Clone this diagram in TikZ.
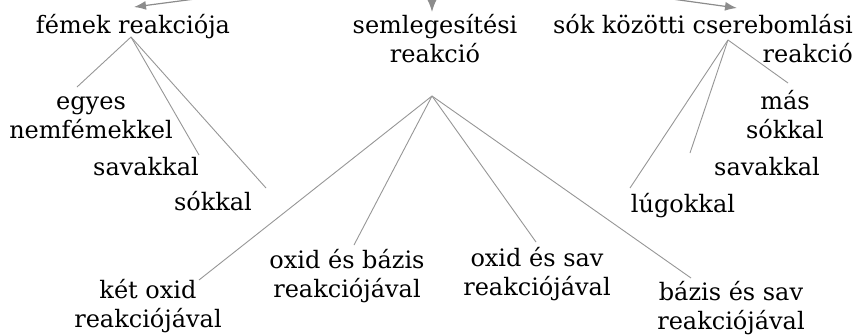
\documentclass[tikz,border=0pt]{standalone}
\usepackage{fontspec}
\setmainfont{DejaVu Serif}
\usetikzlibrary{arrows.meta}
\definecolor{linegray}{RGB}{150,150,150}
\definecolor{arrowgray}{RGB}{140,140,140}
\begin{document}
\begin{tikzpicture}[x=1pt,y=-1pt,
  lbl/.style={inner sep=0pt,anchor=base,font=\fontsize{24}{28.5}\selectfont},
  conn/.style={draw=linegray,line width=0.9pt},
  topArrow/.style={draw=arrowgray,line width=1.2pt,-{Latex[length=12pt,width=9pt]}}]
\useasboundingbox (0,0) rectangle (857,335);
\clip (0,0) rectangle (857,335);
% text nodes (anchor=base is the baseline of the last line)
\node[lbl] (fem) at (133,33) {fémek reakciója};
\node[lbl,align=center] (semleg) at (435,62) {semlegesítési\\reakció};
\node[lbl,align=right,anchor=base east] (sok) at (853,62) {sók közötti cserebomlási\\reakció};
\node[lbl,align=center] (egyes) at (91,138) {egyes\\nemfémekkel};
\node[lbl] (savL) at (146,175) {savakkal};
\node[lbl] (sokkalL) at (213,210) {sókkal};
\node[lbl,align=center] (ketoxid) at (148,327) {két oxid\\reakciójával};
\node[lbl,align=center] (oxbaz) at (347,297) {oxid és bázis\\reakciójával};
\node[lbl,align=center] (oxsav) at (537,295) {oxid és sav\\reakciójával};
\node[lbl,align=center] (bazsav) at (731,329) {bázis és sav\\reakciójával};
\node[lbl,align=center] (mas) at (785,138) {más\\sókkal};
\node[lbl] (savR) at (767,175) {savakkal};
\node[lbl] (lug) at (683,212) {lúgokkal};
% connector points
\coordinate (femApex) at (131,37);
\coordinate (semlegApex) at (432,96);
\coordinate (sokApex) at (728,40);
\coordinate (egyesEnd) at (77,87);
\coordinate (savLEnd) at (199,155);
\coordinate (sokkalLEnd) at (266,188);
\coordinate (ketoxidEnd) at (199,280);
\coordinate (oxbazEnd) at (354,245);
\coordinate (oxsavEnd) at (536,242);
\coordinate (bazsavEnd) at (691,278);
\coordinate (masEnd) at (788,83);
\coordinate (savREnd) at (690,153);
\coordinate (lugEnd) at (630,188);
% top arrows
\coordinate (srcL) at (195,-1);
\coordinate (srcM) at (432,-2);
\coordinate (srcR) at (672,-1);
\coordinate (femTip) at (134,7);
\coordinate (semlegTip) at (432,12);
\coordinate (sokTip) at (737,8);
\draw[topArrow] (srcL) -- (femTip);
\draw[topArrow] (srcM) -- (semlegTip);
\draw[topArrow] (srcR) -- (sokTip);
% connectors
\draw[conn] (femApex) -- (egyesEnd);
\draw[conn] (femApex) -- (savLEnd);
\draw[conn] (femApex) -- (sokkalLEnd);
\draw[conn] (semlegApex) -- (ketoxidEnd);
\draw[conn] (semlegApex) -- (oxbazEnd);
\draw[conn] (semlegApex) -- (oxsavEnd);
\draw[conn] (semlegApex) -- (bazsavEnd);
\draw[conn] (sokApex) -- (masEnd);
\draw[conn] (sokApex) -- (savREnd);
\draw[conn] (sokApex) -- (lugEnd);
\end{tikzpicture}
\end{document}
